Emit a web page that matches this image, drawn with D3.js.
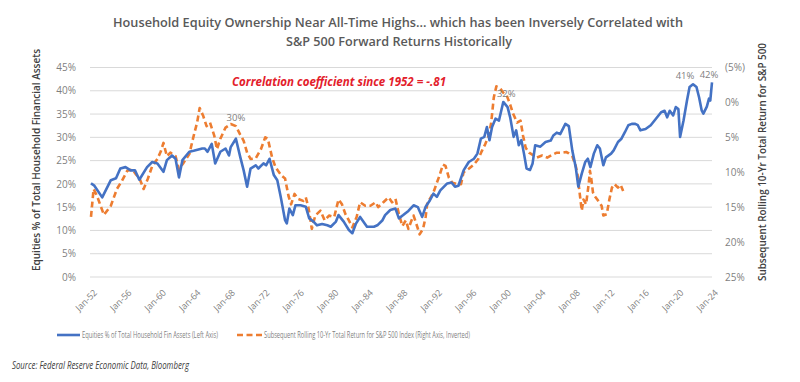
<!DOCTYPE html>
<html><head><meta charset="utf-8">
<script src="https://cdn.jsdelivr.net/npm/d3@7"></script>
<style>
html,body{margin:0;padding:0;background:#fff;}
svg{display:block;font-family:"Open Sans",sans-serif;}
</style></head>
<body><svg id="c" width="800" height="382"></svg>
<script>
const equityDates = [1952.0,1952.35,1953.3,1954.3,1954.9,1955.4,1956.0,1956.6,1957.1,1957.6,1958.5,1959.1,1959.7,1960.4,1960.8,1961.4,1961.8,1962.2,1962.6,1963.4,1963.9,1964.9,1965.2,1965.5,1966.0,1966.4,1967.0,1967.6,1968.0,1968.2,1968.8,1969.3,1969.7,1970.1,1970.5,1971.1,1971.4,1972.0,1972.3,1972.7,1973.2,1973.6,1974.0,1974.5,1974.7,1975.0,1975.4,1975.7,1976.3,1976.9,1977.3,1977.8,1978.2,1978.8,1979.4,1979.8,1980.4,1980.7,1981.3,1981.9,1982.3,1982.7,1983.2,1984.0,1984.8,1985.2,1985.8,1986.1,1986.7,1987.3,1987.7,1988.2,1988.8,1989.4,1989.9,1990.4,1990.8,1991.3,1991.7,1992.1,1992.5,1993.3,1993.8,1994.2,1994.6,1995.2,1995.8,1996.4,1996.8,1997.2,1997.6,1997.9,1998.2,1998.5,1998.9,1999.3,1999.8,2000.3,2000.6,2001.0,2001.3,2001.6,2001.9,2002.2,2002.5,2002.9,2003.2,2003.5,2004.1,2004.7,2005.3,2005.6,2006.0,2006.4,2007.0,2007.4,2007.8,2008.2,2008.5,2008.9,2009.3,2009.6,2009.9,2010.3,2010.7,2011.0,2011.4,2011.7,2012.3,2012.6,2013.1,2013.5,2013.9,2014.3,2014.7,2015.1,2015.4,2015.7,2016.3,2016.9,2017.5,2018.1,2018.5,2018.8,2019.1,2019.5,2019.8,2020.1,2020.3,2020.7,2021.1,2021.4,2021.8,2022.2,2022.5,2022.8,2023.0,2023.4,2023.65,2023.8,2024.0];
const equityPct = [20.1,19.7,17.1,20.8,21.2,23.3,23.6,22.9,22.9,20.9,23.6,24.7,24.4,22.6,25.1,26.1,25.4,21.4,25.1,26.9,27.1,27.6,27.6,26.9,28.6,24.4,26.9,27.6,26.1,27.9,29.7,25.8,22.9,19.4,23.3,24.0,23.3,24.4,24.0,25.4,21.9,20.8,17.2,12.2,11.5,14.7,13.3,15.4,15.4,15.1,12.6,11.9,11.1,11.4,11.1,10.8,11.9,13.3,11.9,10.1,9.4,11.4,12.9,10.8,10.8,11.1,12.2,13.3,14.4,14.7,12.6,13.3,14.2,15.4,15.0,12.9,15.1,16.5,17.9,17.2,18.6,20.1,20.3,19.4,19.6,22.9,24.7,25.4,26.5,29.7,30.1,32.2,29.4,32.2,34.0,33.6,37.6,36.5,34.3,30.1,31.5,28.3,29.4,26.5,23.3,23.0,24.4,28.3,28.0,29.0,29.3,30.4,31.0,30.7,32.9,32.4,27.2,23.6,19.4,22.2,24.7,25.4,23.6,26.5,28.3,27.6,24.0,25.7,26.5,27.2,29.0,29.7,31.1,32.6,32.9,32.9,32.6,31.5,31.8,32.6,34.0,35.4,35.7,34.3,35.7,34.7,36.5,36.1,30.1,33.6,37.9,40.8,41.4,40.8,38.6,35.8,35.1,36.6,38.3,37.9,41.8];

const returnDates = [1952.0,1952.3,1952.7,1953.5,1954.3,1955.0,1955.6,1956.2,1956.8,1957.2,1957.6,1958.1,1958.6,1959.1,1959.7,1960.1,1960.4,1960.8,1961.2,1961.8,1962.2,1962.7,1963.4,1963.9,1964.3,1964.6,1965.0,1965.4,1965.8,1966.3,1966.6,1967.0,1967.6,1968.2,1968.8,1969.3,1969.7,1970.1,1970.5,1971.1,1971.7,1972.2,1972.5,1973.0,1973.4,1974.1,1974.5,1974.9,1975.2,1975.6,1976.0,1976.6,1976.9,1977.2,1977.4,1977.6,1978.0,1978.6,1979.1,1979.6,1980.2,1980.7,1981.1,1981.5,1981.9,1982.3,1982.8,1983.2,1983.8,1984.4,1985.0,1985.3,1985.9,1986.5,1986.9,1987.3,1987.7,1988.1,1988.5,1988.8,1989.1,1989.4,1989.8,1990.1,1990.5,1990.8,1991.0,1991.3,1991.7,1992.1,1992.4,1992.8,1993.1,1993.5,1993.9,1994.5,1994.9,1995.2,1995.8,1996.4,1996.9,1997.3,1997.7,1998.1,1998.4,1998.7,1999.0,1999.4,1999.8,2000.2,2000.6,2000.9,2001.4,2001.8,2002.1,2002.4,2002.8,2003.2,2003.7,2004.3,2004.9,2005.5,2006.0,2006.6,2007.1,2007.4,2007.8,2008.2,2008.4,2008.6,2008.9,2009.1,2009.4,2009.7,2009.85,2010.0,2010.2,2010.4,2010.7,2011.2,2011.4,2011.8,2012.1,2012.4,2012.7,2013.1,2013.4,2013.7];
const returnPct = [16.4,12.4,13.4,16.1,14.8,12.4,11.2,9.8,9.6,10.3,10.8,12.4,10.9,9.1,8.1,7.0,5.8,7.7,7.2,7.7,9.6,8.7,7.4,4.8,2.9,0.8,1.9,3.4,2.9,4.8,6.7,5.2,3.6,3.1,3.4,4.6,5.5,7.2,8.1,8.0,6.7,5.0,5.2,7.9,9.3,10.5,10.9,13.4,14.6,13.1,13.8,14.1,13.6,15.0,16.5,18.1,16.2,15.5,16.9,16.2,16.4,13.9,14.6,16.0,16.9,17.9,16.4,14.3,14.8,14.8,14.3,15.0,14.3,13.6,14.3,13.8,16.0,17.7,16.9,18.1,17.1,16.2,17.7,18.9,18.1,16.4,14.3,13.8,12.9,11.5,10.5,8.9,9.1,10.8,11.5,11.7,11.7,10.0,9.5,8.9,8.1,7.0,6.0,4.8,2.9,-0.7,-2.3,-2.1,-1.4,-1.0,0.3,1.5,2.9,2.6,4.8,6.5,7.2,7.5,7.9,7.6,7.9,7.5,7.2,7.2,7.1,7.3,7.7,9.1,10.3,12.4,15.5,13.9,14.6,11.7,9.8,10.9,12.9,13.4,13.9,14.8,16.2,16.0,13.9,12.2,11.7,12.2,11.8,12.7];

const xTickYears = [1952,1956,1960,1964,1968,1972,1976,1980,1984,1988,1992,1996,2000,2004,2008,2012,2016,2020,2024];
const xTickLabels = ["Jan-52","Jan-56","Jan-60","Jan-64","Jan-68","Jan-72","Jan-76","Jan-80","Jan-84","Jan-88","Jan-92","Jan-96","Jan-00","Jan-04","Jan-08","Jan-12","Jan-16","Jan-20","Jan-24"];
const leftTicks = [0,5,10,15,20,25,30,35,40,45];
const rightTicks = [-5,0,5,10,15,20,25];
const peakYears = [1968.8, 1999.8, 2021.8, 2024.0];
const peakVals = [29.7, 37.6, 41.4, 41.8];
const peakTexts = ["30%", "32%", "41%", "42%"];

const svg = d3.select("#c");
const X0 = 91, X1 = 712, YT = 67.5, YB = 277;
const x = d3.scaleLinear().domain([1952, 2024]).range([X0, X1]);
const yL = d3.scaleLinear().domain([0, 45]).range([YB, YT]);
const yR = d3.scaleLinear().domain([-5, 25]).range([YT, YB]);

// gridlines
svg.append("g").selectAll("line").data(leftTicks).join("line")
  .attr("x1", X0 - 1).attr("x2", X1).attr("y1", d => yL(d)).attr("y2", d => yL(d))
  .attr("stroke", "#d9d9d9").attr("stroke-width", 1);

// left axis
const gL = svg.append("g").attr("transform", `translate(${X0 - 12},0)`)
  .call(d3.axisLeft(yL).tickValues(leftTicks).tickSize(0).tickFormat(d => d + "%"));
gL.select(".domain").remove();
gL.selectAll("text").attr("fill", "#7f7f7f").style("font-size", "10px").style("font-family", "Open Sans");

// right axis
const gR = svg.append("g").attr("transform", `translate(${X1 + 10},0)`)
  .call(d3.axisRight(yR).tickValues(rightTicks).tickSize(0).tickFormat(d => d < 0 ? "(" + (-d) + "%)" : d + "%"));
gR.select(".domain").remove();
gR.selectAll("text").attr("fill", "#7f7f7f").style("font-size", "10px").style("font-family", "Open Sans");

// x axis
const gX = svg.append("g").attr("transform", `translate(0,${YB + 14})`)
  .call(d3.axisBottom(x).tickValues(xTickYears).tickSize(0).tickFormat((d, i) => xTickLabels[i]));
gX.select(".domain").remove();
gX.selectAll("text").attr("fill", "#7f7f7f").style("font-size", "9px").style("font-family", "Open Sans")
  .attr("text-anchor", "end").attr("dy", "0.35em").attr("dx", "0")
  .attr("transform", "translate(4,0) rotate(-45)").attr("y", 0);

// lines
const lineL = d3.line().x((d, i) => x(equityDates[i])).y(d => yL(d));
const lineR = d3.line().x((d, i) => x(returnDates[i])).y(d => yR(d));
svg.append("path").datum(returnPct).attr("d", lineR).attr("fill", "none")
  .attr("stroke", "#ed7d31").attr("stroke-width", 2.6).attr("stroke-dasharray", "6,3.5").attr("stroke-linejoin", "round");
svg.append("path").datum(equityPct).attr("d", lineL).attr("fill", "none")
  .attr("stroke", "#4472c4").attr("stroke-width", 2.6).attr("stroke-linejoin", "round");

// peak labels (offsets mimic the original label placement)
const labelDx = [0, 3, -8, -3];
const labelDy = [-18, -5, -5, -4];
svg.append("g").selectAll("text").data(peakVals).join("text")
  .attr("x", (d, i) => x(peakYears[i]) + labelDx[i]).attr("y", (d, i) => yL(d) + labelDy[i])
  .attr("text-anchor", "middle").attr("fill", "#7f7f7f").style("font-size", "9.5px")
  .text((d, i) => peakTexts[i]);

// correlation text
svg.append("text").attr("x", 339).attr("y", 86).attr("text-anchor", "middle")
  .attr("fill", "#e3202b").style("font-size", "11.5px").style("font-weight", "700").style("font-style", "italic")
  .attr("textLength", 214).attr("lengthAdjust", "spacingAndGlyphs")
  .text("Correlation coefficient since 1952 = -.81");

// title
svg.append("text").attr("x", 398).attr("y", 27).attr("text-anchor", "middle")
  .attr("fill", "#595959").style("font-size", "13px").style("font-weight", "600")
  .attr("textLength", 570).attr("lengthAdjust", "spacingAndGlyphs")
  .text("Household Equity Ownership Near All-Time Highs... which has been Inversely Correlated with");
svg.append("text").attr("x", 399).attr("y", 46).attr("text-anchor", "middle")
  .attr("fill", "#595959").style("font-size", "13px").style("font-weight", "600")
  .attr("textLength", 226).attr("lengthAdjust", "spacingAndGlyphs")
  .text("S&P 500 Forward Returns Historically");

// axis titles
svg.append("text").attr("transform", "translate(40,160) rotate(-90)").attr("text-anchor", "middle")
  .attr("fill", "#404040").style("font-size", "10px").style("font-weight", "600")
  .attr("textLength", 222).attr("lengthAdjust", "spacingAndGlyphs")
  .text("Equities % of Total Household Financial Assets");
svg.append("text").attr("transform", "translate(766,162) rotate(-90)").attr("text-anchor", "middle")
  .attr("fill", "#404040").style("font-size", "10px").style("font-weight", "600")
  .attr("textLength", 238).attr("lengthAdjust", "spacingAndGlyphs")
  .text("Subsequent Rolling 10-Yr Total Return for S&P 500");

// legend
const lg = svg.append("g");
lg.append("line").attr("x1", 57).attr("x2", 80).attr("y1", 335).attr("y2", 335).attr("stroke", "#4472c4").attr("stroke-width", 2.6);
lg.append("text").attr("x", 82).attr("y", 338).attr("fill", "#7f7f7f").style("font-size", "8.5px")
  .attr("textLength", 136).attr("lengthAdjust", "spacingAndGlyphs")
  .text("Equities % of Total Household Fin Assets (Left Axis)");
lg.append("line").attr("x1", 237).attr("x2", 262).attr("y1", 335).attr("y2", 335).attr("stroke", "#ed7d31").attr("stroke-width", 2.6).attr("stroke-dasharray", "6,3.5");
lg.append("text").attr("x", 264).attr("y", 338).attr("fill", "#7f7f7f").style("font-size", "8.5px")
  .attr("textLength", 206).attr("lengthAdjust", "spacingAndGlyphs")
  .text("Subsequent Rolling 10-Yr Total Return for S&P 500 Index (Right Axis, Inverted)");

// source
svg.append("text").attr("x", 12).attr("y", 369).attr("fill", "#404040")
  .style("font-size", "11.5px").style("font-style", "italic")
  .attr("textLength", 177).attr("lengthAdjust", "spacingAndGlyphs")
  .text("Source: Federal Reserve Economic Data, Bloomberg");
</script></body></html>
